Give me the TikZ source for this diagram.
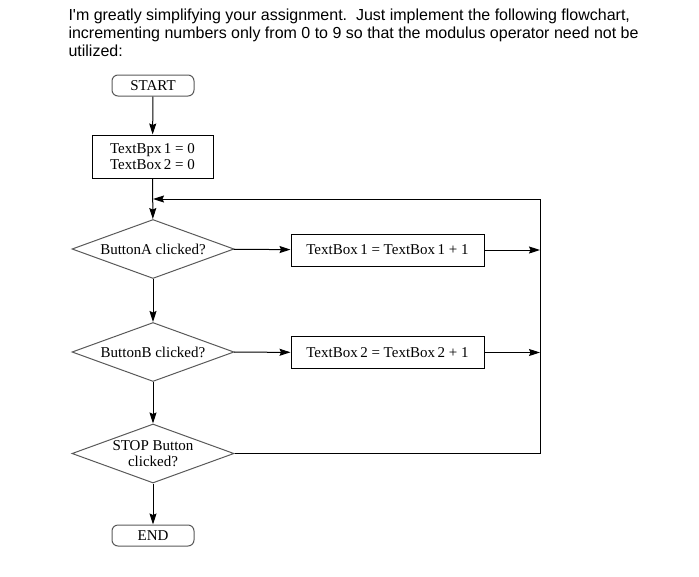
\documentclass[tikz,border=0pt]{standalone}
\usepackage{fontspec}
\setmainfont{Liberation Serif}
\newfontfamily\hdrfont{Liberation Sans}
\usetikzlibrary{arrows.meta,shapes.geometric}

\begin{document}
\begin{tikzpicture}[x=1pt,y=-1pt,line width=1pt,>={Stealth[length=11pt,width=7pt,inset=1.5pt]},
  termbox/.style={draw=black!65,rounded corners=6pt,minimum width=82pt,
    minimum height=21pt,inner sep=0pt,font=\fontsize{15}{16}\selectfont},
  procbox/.style={draw,minimum height=32pt,inner sep=0pt,
    font=\fontsize{15}{16}\selectfont},
  decbox/.style={draw=black!65,diamond,aspect=2.75,minimum width=162pt,
    minimum height=59pt,inner sep=0pt,align=center,
    font=\fontsize{15}{16}\selectfont},
  hdr/.style={anchor=base west,inner sep=0pt,font=\hdrfont\fontsize{16}{18}\selectfont}]
\useasboundingbox (0,0) rectangle (699,576);
% 题头文字
\node[hdr] (hdra) at (68,20) {I'm greatly simplifying your assignment.\ \ Just implement the following flowchart,};
\node[hdr] (hdrb) at (68,38) {incrementing numbers only from 0 to 9 so that the modulus operator need not be};
\node[hdr] (hdrc) at (68,56) {utilized:};
% 流程图节点
\node[termbox] (start) at (153,85.5) {START};
\node[procbox,minimum width=121pt,minimum height=43pt,align=center] (init) at (152.5,156.5)
  {TextBpx\,1 = 0\\TextBox\,2 = 0};
\coordinate (merge) at (153,199);
\node[decbox] (clka) at (153,249) {ButtonA clicked?};
\node[procbox,minimum width=193pt] (inca) at (387.5,250) {TextBox\,1 = TextBox\,1 + 1};
\node[decbox] (clkb) at (153,352) {ButtonB clicked?};
\node[procbox,minimum width=193pt] (incb) at (387.5,352.5) {TextBox\,2 = TextBox\,2 + 1};
\node[decbox] (clks) at (153,453.5) {STOP Button\\clicked?};
\node[termbox] (stop) at (153,535.5) {END};
\coordinate (rail) at (540,199);
% 连线
\draw[->] (start) -- (init);
\draw[->] (init) -- (clka);
\draw[->] (clka) -- (inca);
\draw[->] (inca) -- (inca -| rail);
\draw[->] (clka) -- (clkb);
\draw[->] (clkb) -- (incb);
\draw[->] (incb) -- (incb -| rail);
\draw[->] (clkb) -- (clks);
\draw[->] (clks) -- (stop);
% 回路
\draw[->] (clks.east) -- (clks.east -| rail) -- (rail) -- (merge);
\end{tikzpicture}
\end{document}
